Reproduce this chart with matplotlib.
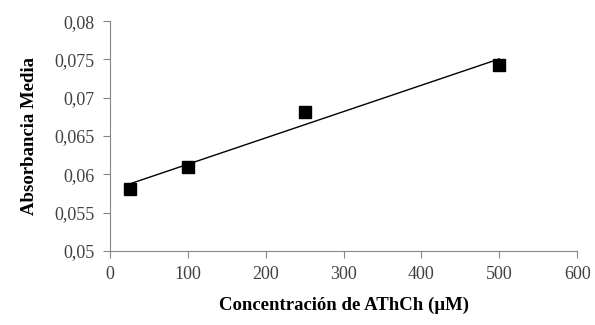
import numpy as np
import matplotlib.pyplot as plt
from matplotlib.ticker import FuncFormatter

# Datos
concentracion = [25, 100, 250, 500]
absorbancia = [0.0581, 0.0610, 0.0682, 0.0743]
x_ticks = [0, 100, 200, 300, 400, 500, 600]
y_ticks = [0.05, 0.055, 0.06, 0.065, 0.07, 0.075, 0.08]

plt.rcParams['font.family'] = ['Liberation Serif', 'DejaVu Serif']

fig = plt.figure(figsize=(5.95, 3.25), dpi=100)
ax = fig.add_axes([0.185, 0.228, 0.785, 0.707])

# Línea de tendencia lineal
pend, orig = np.polyfit(concentracion, absorbancia, 1)
xt = np.array([min(concentracion), max(concentracion)])
ax.plot(xt, pend * xt + orig, color='black', lw=1.0, zorder=2)

ax.plot(concentracion, absorbancia, 's', color='black', markersize=8.5, zorder=3)

ax.set_xlim(0, 600)
ax.set_ylim(0.05, 0.08)
ax.set_xticks(x_ticks)
ax.set_yticks(y_ticks)
ax.yaxis.set_major_formatter(FuncFormatter(lambda v, p: f"{v:.3f}".rstrip('0').replace('.', ',')))

for s in ['top', 'right']:
    ax.spines[s].set_visible(False)
for s in ['left', 'bottom']:
    ax.spines[s].set_color('#868686')
ax.tick_params(direction='out', length=5, pad=6, color='#868686', labelsize=13, labelcolor='#404040')

ax.set_xlabel('Concentración de AThCh (µM)', fontsize=13.5, fontweight='bold', labelpad=10)
ax.set_ylabel('Absorbancia Media', fontsize=13.5, fontweight='bold', labelpad=12)

fig.savefig('out.png', dpi=100)
